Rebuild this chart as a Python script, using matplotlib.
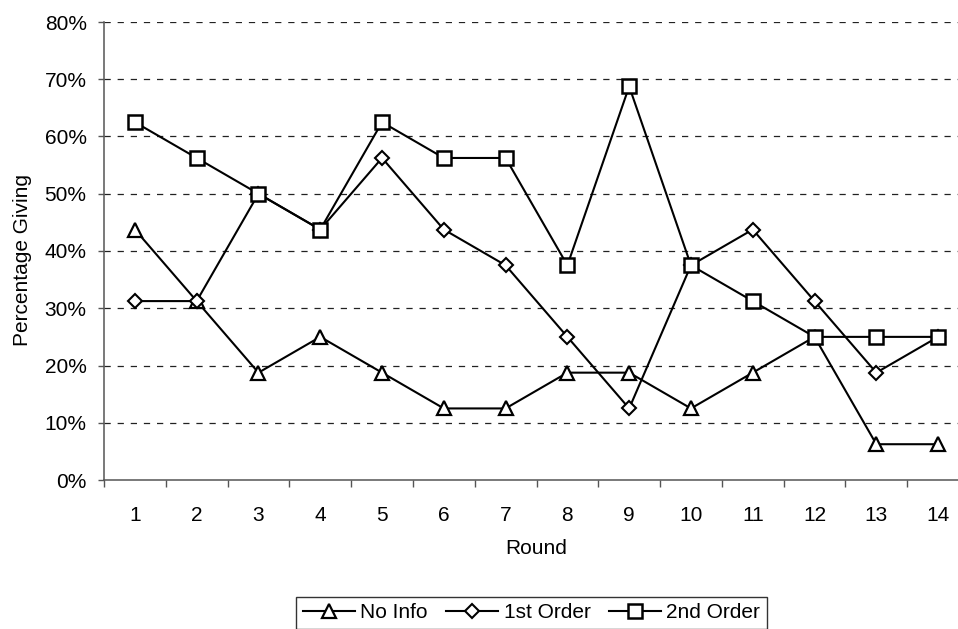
import matplotlib
matplotlib.use("Agg")
import matplotlib.pyplot as plt
from matplotlib.ticker import FixedLocator, FuncFormatter

rounds = list(range(1, 15))
no_info = [43.75, 31.25, 18.75, 25, 18.75, 12.5, 12.5, 18.75, 18.75, 12.5, 18.75, 25, 6.25, 6.25]
first_order = [31.25, 31.25, 50, 43.75, 56.25, 43.75, 37.5, 25, 12.5, 37.5, 43.75, 31.25, 18.75, 25]
second_order = [62.5, 56.25, 50, 43.75, 62.5, 56.25, 56.25, 37.5, 68.75, 37.5, 31.25, 25, 25, 25]
series_labels = ["No Info", "1st Order", "2nd Order"]
y_ticks = [0, 10, 20, 30, 40, 50, 60, 70, 80]

plt.rcParams['font.family'] = ['Liberation Sans', 'DejaVu Sans']
FS = 15

W, H = 958, 629
fig = plt.figure(figsize=(W / 100, H / 100), dpi=100)
left, right, top, bottom = 104, 969, 22, 480
ax = fig.add_axes([left / W, 1 - bottom / H, (right - left) / W, (bottom - top) / H])

ax.plot(rounds, no_info, color='black', lw=1.5, marker='^', markersize=10.5,
        markerfacecolor='white', markeredgecolor='black', markeredgewidth=1.6,
        label=series_labels[0], zorder=3)
ax.plot(rounds, first_order, color='black', lw=1.5, marker='D', markersize=7.5,
        markerfacecolor='white', markeredgecolor='black', markeredgewidth=1.5,
        label=series_labels[1], zorder=4)
ax.plot(rounds, second_order, color='black', lw=1.5, marker='s', markersize=10,
        markerfacecolor='white', markeredgecolor='black', markeredgewidth=1.8,
        label=series_labels[2], zorder=5)

ax.set_xlim(0.5, 14.5)
ax.set_ylim(0, 80)
ax.set_yticks(y_ticks)
ax.yaxis.set_major_formatter(FuncFormatter(lambda v, p: f"{int(v)}%"))
ax.set_xticks(rounds)
ax.set_xticklabels([str(r) for r in rounds])
ax.xaxis.set_minor_locator(FixedLocator([r - 0.5 for r in rounds] + [14.5]))

ax.tick_params(axis='x', which='major', length=0, pad=18.5, labelsize=FS)
ax.tick_params(axis='x', which='minor', length=5, width=1, direction='out', color='#555555')
ax.tick_params(axis='y', which='major', length=4, width=1, direction='out', pad=8.5,
               labelsize=FS, color='#555555')

for yv in y_ticks[1:]:
    ax.axhline(yv, color='#222222', lw=0.9, linestyle=(0, (5, 5.5)), zorder=1)

for s in ['top', 'right']:
    ax.spines[s].set_visible(False)
for s in ['left', 'bottom']:
    ax.spines[s].set_color('#555555')
    ax.spines[s].set_linewidth(1.1)

ax.set_xlabel("Round", fontsize=FS)
ax.xaxis.set_label_coords(0.5, (bottom - 548) / (bottom - top))
ax.xaxis.label.set_va('center')
ax.set_ylabel("Percentage Giving", fontsize=FS)
ax.yaxis.set_label_coords((22 - left) / (right - left), (bottom - 259.5) / (bottom - top))
ax.yaxis.label.set_va('center')

leg = fig.legend(loc='upper center', bbox_to_anchor=(531.5 / W, 1 - 597 / H), ncol=3,
                 fontsize=FS, frameon=True, fancybox=False, edgecolor='black',
                 handlelength=2.5, handletextpad=0.25, columnspacing=0.9,
                 borderpad=0.3, borderaxespad=0)
leg.get_frame().set_linewidth(1.0)

fig.savefig("out.png", dpi=100)
